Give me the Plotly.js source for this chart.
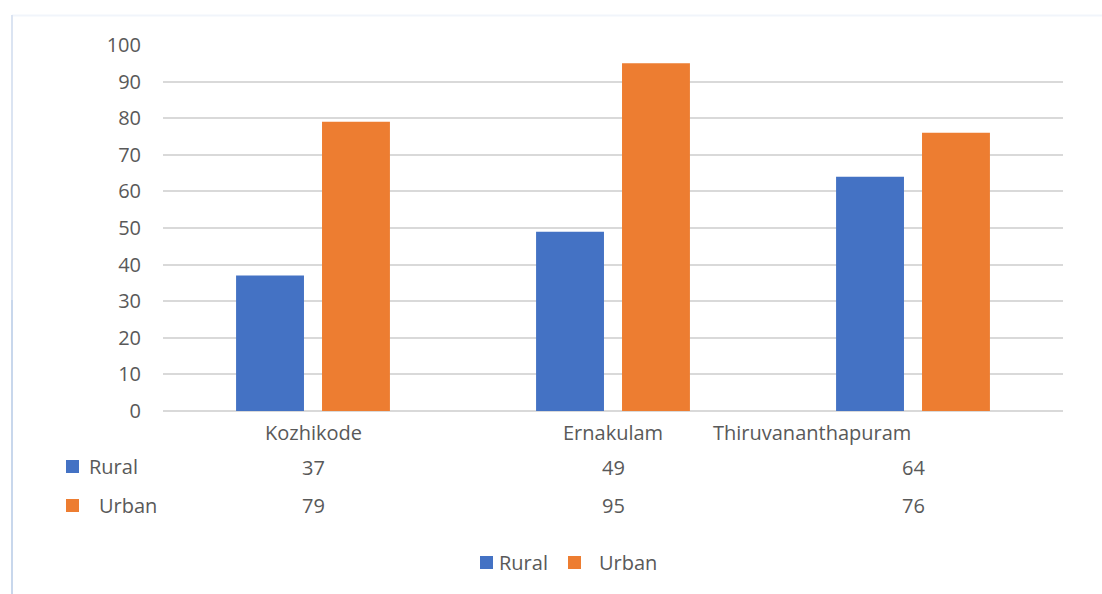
<!DOCTYPE html>
<html>
<head>
<meta charset="utf-8">
<script src="https://cdn.plot.ly/plotly-3.0.1.min.js"></script>
<style>
  html, body { margin: 0; padding: 0; background: #ffffff; }
  #chart { width: 1102px; height: 594px; }
</style>
</head>
<body>
<div id="chart"></div>
<script>
// District-wise figures, rural vs urban
const districts = ["Kozhikode", "Ernakulam", "Thiruvananthapuram"];
const seriesNames = ["Rural", "Urban"];
const ruralValues = [37, 49, 64];
const urbanValues = [79, 95, 76];
const yTicks = [0, 10, 20, 30, 40, 50, 60, 70, 80, 90, 100];

const BLUE = "#4472c4";
const ORANGE = "#ed7d31";
const TEXT = "#595959";
const FONT = "Open Sans, sans-serif";
const FS = 20;

// Plot area geometry (pixels) used to place the data table under the axis
const W = 1102, H = 594;
const M = { l: 163, r: 39, t: 45, b: 183 };
const PW = W - M.l - M.r, PH = H - M.t - M.b;
const px = x => (x - M.l) / PW;       // page x -> paper x
const py = y => (H - M.b - y) / PH;   // page y -> paper y

const traces = [
  { type: "bar", name: seriesNames[0], x: districts, y: ruralValues,
    marker: { color: BLUE }, hoverinfo: "x+y" },
  { type: "bar", name: seriesNames[1], x: districts, y: urbanValues,
    marker: { color: ORANGE }, hoverinfo: "x+y" }
];

const annotations = [];
const shapes = [];
const txt = (extra) => Object.assign({
  showarrow: false, font: { family: FONT, size: FS, color: TEXT }
}, extra);

// Category labels row
districts.forEach((d, i) => {
  const last = i === districts.length - 1;
  annotations.push(txt({
    x: d, xref: "x", y: 0, yref: "paper", yshift: -21,
    xanchor: last ? "right" : "center", yanchor: "middle", text: d
  }));
});

// Value rows of the data table
[[ruralValues, -56], [urbanValues, -94]].forEach(([vals, shift]) => {
  vals.forEach((v, i) => {
    annotations.push(txt({
      x: districts[i], xref: "x", y: 0, yref: "paper", yshift: shift,
      xanchor: "center", yanchor: "middle", text: String(v)
    }));
  });
});

// Colour key + label helper
function key(name, col, left, top, textLeft) {
  shapes.push({
    type: "rect", xref: "paper", yref: "paper",
    x0: px(left), x1: px(left + 13), y0: py(top), y1: py(top + 13),
    fillcolor: col, line: { width: 0 }
  });
  annotations.push(txt({
    x: px(textLeft), xref: "paper", y: py(top + 6.5), yref: "paper",
    xanchor: "left", yanchor: "middle", text: name
  }));
}

// Row headers of the data table
key(seriesNames[0], BLUE, 66, 460, 87);
key(seriesNames[1], ORANGE, 66, 499, 97);

// Legend under the table
key(seriesNames[0], BLUE, 480, 556, 497);
key(seriesNames[1], ORANGE, 568, 556, 597);

// Chart frame edges
shapes.push({
  type: "line", xref: "paper", yref: "paper",
  x0: px(12), x1: px(1102), y0: py(15.5), y1: py(15.5),
  line: { color: "#f1f5fb", width: 2 }
});
shapes.push({
  type: "line", xref: "paper", yref: "paper",
  x0: px(12), x1: px(12), y0: py(15), y1: py(300),
  line: { color: "#dbe4f2", width: 2 }
});
shapes.push({
  type: "line", xref: "paper", yref: "paper",
  x0: px(12), x1: px(12), y0: py(300), y1: py(594),
  line: { color: "#c8d7ec", width: 2 }
});

const layout = {
  width: W, height: H,
  margin: M,
  paper_bgcolor: "#ffffff",
  plot_bgcolor: "#ffffff",
  barmode: "group",
  bargap: 0.427,
  bargroupgap: 0.21,
  font: { family: FONT, size: FS, color: TEXT },
  showlegend: false,
  xaxis: {
    type: "category",
    showticklabels: false,
    showgrid: false,
    zeroline: false,
    showline: false,
    ticks: ""
  },
  yaxis: {
    range: [0, 100],
    tickvals: yTicks,
    ticktext: yTicks.map(String),
    showgrid: true,
    gridcolor: "#d9d9d9",
    gridwidth: 2,
    zeroline: true,
    zerolinecolor: "#d9d9d9",
    zerolinewidth: 2,
    showline: false,
    ticks: "",
    ticklabelstandoff: 21,
    tickfont: { family: FONT, size: FS, color: TEXT }
  },
  annotations: annotations,
  shapes: shapes
};

Plotly.newPlot("chart", traces, layout, { displayModeBar: false, staticPlot: true });
</script>
</body>
</html>
